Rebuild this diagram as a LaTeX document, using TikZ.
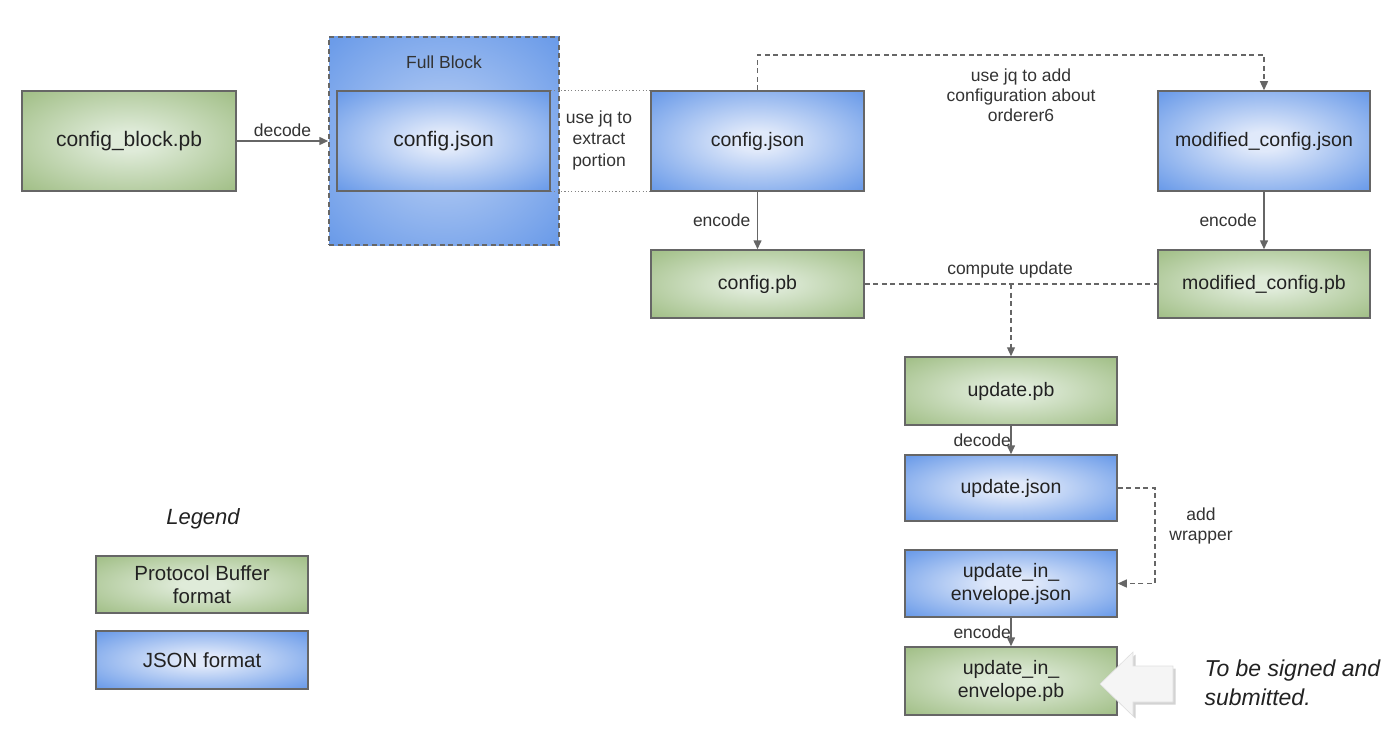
\documentclass[tikz,border=0pt]{standalone}
\usepackage{fontspec}
\setmainfont{Liberation Sans}
\usetikzlibrary{arrows.meta,shadows}
\definecolor{gedge}{HTML}{A3C089}
\definecolor{gmid}{HTML}{DFEBD9}
\definecolor{bedge}{HTML}{6C9CE9}
\definecolor{bmid}{HTML}{E0E9FA}
\definecolor{fbmid}{HTML}{B3CBF3}
\definecolor{lineg}{HTML}{666666}
\definecolor{txt}{HTML}{222222}
\definecolor{lbl}{HTML}{333333}
\pgfdeclareradialshading{gshade}{\pgfpoint{0bp}{0bp}}{color(0bp)=(gmid); color(5bp)=(gmid); color(34bp)=(gedge); color(50bp)=(gedge)}
\pgfdeclareradialshading{bshade}{\pgfpoint{0bp}{0bp}}{color(0bp)=(bmid); color(5bp)=(bmid); color(34bp)=(bedge); color(50bp)=(bedge)}
\pgfdeclareradialshading{fbshade}{\pgfpoint{0bp}{0bp}}{color(0bp)=(fbmid); color(5bp)=(fbmid); color(34bp)=(bedge); color(50bp)=(bedge)}
\tikzset{
  box/.style={draw=lineg, line width=1.5pt, inner sep=2pt, align=center,
    font=\fontsize{19.5}{23}\selectfont, text=txt},
  pbbox/.style={box, shading=gshade},
  jsbox/.style={box, shading=bshade},
  big/.style={font=\fontsize{21}{25}\selectfont},
  conn/.style={draw=lineg, line width=1.5pt},
  arr/.style={conn, -{Triangle[width=8pt,length=9pt]}},
  dsh/.style={dash pattern=on 5pt off 3.5pt},
  dots/.style={dash pattern=on 1.2pt off 2.2pt, line width=1.2pt},
  lab/.style={font=\fontsize{17.5}{20}\selectfont, text=lbl, align=center},
}
\begin{document}
\begin{tikzpicture}[x=1pt,y=-1pt]
\useasboundingbox (0,0) rectangle (1400,730);

% top row
\node[pbbox, big, minimum width=214pt, minimum height=100pt] (cbp) at (129,141) {config\_block.pb};
\node[box, shading=fbshade, dsh, minimum width=230pt, minimum height=208pt] (fb) at (444,141) {};
\node[lab] (fbl) at (444,62) {Full Block};
\node[jsbox, big, minimum width=213pt, minimum height=100pt] (cj1) at (443.5,141) {config.json};
\node[jsbox, minimum width=213pt, minimum height=100pt] (cj2) at (757.5,141) {config.json};
\node[jsbox, minimum width=212pt, minimum height=100pt] (mj) at (1264,141) {modified\_config.json};

\node[pbbox, minimum width=213pt, minimum height=68pt] (cpb) at (757.5,284) {config.pb};
\node[pbbox, minimum width=212pt, minimum height=68pt] (mpb) at (1264,284) {modified\_config.pb};

% right column
\node[pbbox, minimum width=212pt, minimum height=68pt] (upb) at (1011,391) {update.pb};
\node[jsbox, minimum width=212pt, minimum height=66pt] (uj) at (1011,488) {update.json};
\node[jsbox, minimum width=212pt, minimum height=67pt] (uej) at (1011,583.5) {update\_in\_\\envelope.json};
\node[pbbox, minimum width=212pt, minimum height=68pt] (uepb) at (1011,681) {update\_in\_\\envelope.pb};

% connectors
\draw[arr] (cbp) -- node[lab, above=0pt] {decode} (fb);
\draw[conn, dots, lineg!80] (cj1.north east) -- (cj2.north west);
\draw[conn, dots, lineg!80] (cj1.south east) -- (cj2.south west);
\node[lab, font=\fontsize{17.5}{21.5}\selectfont] (ujq) at (599,140) {use jq to\\extract\\portion};

\coordinate (topc) at (1010,55);
\draw[arr, dsh, line width=1.2pt] (cj2.north) |- (topc) -| (mj.north);
\node[lab] (addl) at (1021,95) {use jq to add\\configuration about\\orderer6};

\draw[arr] (cj2) -- node[lab, left=3pt] {encode} (cpb);
\draw[arr] (mj) -- node[lab, left=3pt] {encode} (mpb);

\draw[conn, dsh, line width=1.2pt] (cpb) -- (mpb);
\node[lab] (cul) at (1010,270) {compute update};
\coordinate (cu) at (1011,284);
\draw[arr, dsh, line width=1.2pt] (cu) -- (upb);

\draw[arr] (upb) -- node[lab, left=-4pt] {decode} (uj);
\draw[arr] (uej) -- node[lab, left=-4pt] {encode} (uepb);

\coordinate (wr) at (1155,530);
\draw[arr, dsh, line width=1.2pt] (uj.east) -| (wr) |- (uej.east);
\node[lab] (wrl) at (1201,526) {add\\wrapper};

% big arrow
\path[fill=gray!8, draw=gray!25, line width=0.6pt,
  drop shadow={opacity=0.35, shadow xshift=2.5pt, shadow yshift=-2.5pt}]
  (1100,684) -- (1133,652) -- (1133,666) -- (1173,666) -- (1173,702)
  -- (1133,702) -- (1133,716) -- cycle;
\node[anchor=west, align=left, font=\itshape\fontsize{23}{29}\selectfont, text=txt] (sign) at (1201,683) {To be signed and\\submitted.};

% legend
\node[font=\itshape\fontsize{22}{25}\selectfont, text=txt] (leg) at (203,519) {Legend};
\node[pbbox, font=\fontsize{20.5}{23}\selectfont, minimum width=212pt, minimum height=57pt] (lpb) at (202,584.5) {Protocol Buffer\\format};
\node[jsbox, font=\fontsize{20.5}{23}\selectfont, minimum width=212pt, minimum height=58pt] (ljs) at (202,660) {JSON format};
\end{tikzpicture}
\end{document}
